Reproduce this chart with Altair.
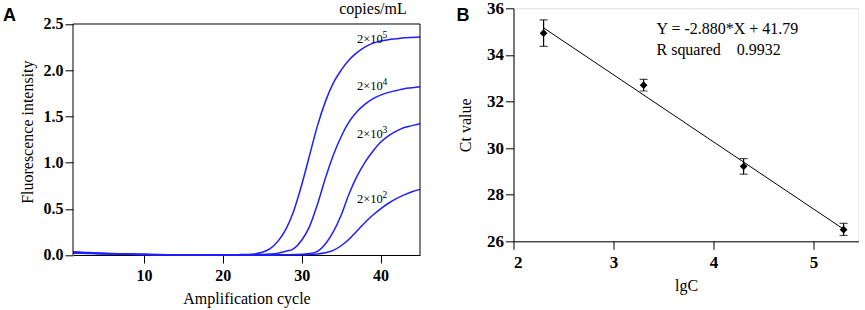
import altair as alt
import pandas as pd

# ---------------- Panel A data ----------------
cycles = list(range(1, 46))
curve_2e5 = [0.035, 0.030, 0.026, 0.022, 0.019, 0.016, 0.013, 0.011, 0.009, 0.007,
             0.006, 0.005, 0.004, 0.003, 0.003, 0.002, 0.002, 0.002, 0.002, 0.002,
             0.003, 0.004, 0.006, 0.012, 0.030, 0.070, 0.15, 0.28, 0.48, 0.76,
             1.08, 1.40, 1.66, 1.86, 2.00, 2.11, 2.19, 2.25, 2.29, 2.315,
             2.33, 2.34, 2.35, 2.355, 2.36]
curve_2e4 = [0.030, 0.026, 0.022, 0.019, 0.016, 0.013, 0.011, 0.009, 0.007, 0.006,
             0.005, 0.004, 0.003, 0.003, 0.002, 0.002, 0.002, 0.001, 0.001, 0.001,
             0.001, 0.001, 0.002, 0.003, 0.005, 0.010, 0.020, 0.040, 0.07, 0.16,
             0.31, 0.55, 0.83, 1.08, 1.28, 1.44, 1.55, 1.63, 1.69, 1.73,
             1.76, 1.78, 1.80, 1.81, 1.82]
curve_2e3 = [0.025, 0.022, 0.019, 0.016, 0.014, 0.012, 0.010, 0.008, 0.006, 0.005,
             0.004, 0.003, 0.003, 0.002, 0.002, 0.001, 0.001, 0.001, 0.001, 0.001,
             0.001, 0.001, 0.001, 0.001, 0.001, 0.001, 0.002, 0.003, 0.005, 0.008,
             0.015, 0.040, 0.12, 0.25, 0.43, 0.66, 0.85, 1.00, 1.12, 1.22,
             1.29, 1.34, 1.38, 1.40, 1.42]
curve_2e2 = [0.020, 0.018, 0.016, 0.014, 0.012, 0.010, 0.008, 0.007, 0.006, 0.005,
             0.004, 0.003, 0.002, 0.002, 0.001, 0.001, 0.001, 0.001, 0.001, 0.001,
             0.001, 0.001, 0.001, 0.001, 0.001, 0.001, 0.001, 0.002, 0.002, 0.003,
             0.006, 0.012, 0.025, 0.05, 0.10, 0.17, 0.26, 0.35, 0.43, 0.50,
             0.56, 0.61, 0.65, 0.685, 0.71]
series_names = ["2e5", "2e4", "2e3", "2e2"]
series_vals = [curve_2e5, curve_2e4, curve_2e3, curve_2e2]

label_base = ["2×10", "2×10", "2×10", "2×10"]
label_exp = ["5", "4", "3", "2"]
label_x = [37.0, 37.0, 37.0, 37.0]
label_y = [2.34, 1.83, 1.31, 0.61]

a_ticks_x = [10, 20, 30, 40]
a_ticks_y = [0, 0.5, 1.0, 1.5, 2.0, 2.5]

# ---------------- Panel B data ----------------
lgc = [2.301, 3.301, 4.301, 5.301]
ct = [34.93, 32.70, 29.22, 26.50]
ct_lo = [34.37, 32.45, 28.88, 26.25]
ct_hi = [35.50, 32.95, 29.55, 26.77]
fit_x = [2.301, 5.301]
fit_y = [35.16, 26.52]
eq_lines = ["Y = -2.880*X + 41.79", "R squared\u00a0\u00a0\u00a0 0.9932"]
eq_x = [3.43, 3.43]
eq_y = [35.11, 34.21]

SERIF = "Liberation Serif"
SANS = "Liberation Sans"
BLUE = "#1f1fff"

rows = []
for name, vals in zip(series_names, series_vals):
    for c, v in zip(cycles, vals):
        rows.append({"cycle": c, "value": v, "series": name})
df_a = pd.DataFrame(rows)
df_lab = pd.DataFrame({"cycle": label_x, "value": label_y, "t": label_base, "e": label_exp})
one = pd.DataFrame({"d": [0]})

# A: view spans from the top of panel B's frame; frame of A drawn with rules at 2.5
A_H = 246.7
A_TOP = 2.5 * A_H / 231.0
df_frame = pd.DataFrame({
    "x1": [1, 45, 1], "x2": [1, 45, 45],
    "y1": [0, 0, 2.5], "y2": [2.5, 2.5, 2.5],
})

xA = alt.X("cycle:Q", scale=alt.Scale(domain=[1, 45], nice=False, zero=False),
           axis=alt.Axis(values=a_ticks_x, title="Amplification cycle", grid=False,
                         labelFont=SERIF, labelFontWeight="bold", labelFontSize=16,
                         titleFont=SERIF, titleFontWeight="normal", titleFontSize=16,
                         tickSize=8, labelPadding=5, titlePadding=7,
                         domainColor="black", tickColor="black", labelColor="black", titleColor="black"))
yA = alt.Y("value:Q", scale=alt.Scale(domain=[0, A_TOP], nice=False),
           axis=alt.Axis(values=a_ticks_y, format=".1f", title="Fluorescence intensity",
                         grid=False, domain=False, labelFont=SERIF, labelFontWeight="bold", labelFontSize=16,
                         titleFont=SERIF, titleFontWeight="normal", titleFontSize=16,
                         tickSize=8, labelPadding=2, titlePadding=8,
                         tickColor="black", labelColor="black", titleColor="black"))

lines_a = alt.Chart(df_a).mark_line(color=BLUE, strokeWidth=1.5, interpolate="monotone").encode(
    x=xA, y=yA, detail="series:N")
frame_a = alt.Chart(df_frame).mark_rule(color="black", strokeWidth=1).encode(
    x="x1:Q", x2="x2:Q", y="y1:Q", y2="y2:Q")
labels_a = alt.Chart(df_lab).mark_text(font=SERIF, fontSize=12.5, color="black", align="left",
                                       baseline="middle").encode(
    x="cycle:Q", y="value:Q", text="t:N")
labels_e = alt.Chart(df_lab).mark_text(font=SERIF, fontSize=9.5, color="black", align="left",
                                       baseline="middle", dx=25.5, dy=-3.5).encode(
    x="cycle:Q", y="value:Q", text="e:N")
copies = alt.Chart(one).mark_text(font=SERIF, fontSize=16, color="black", align="center",
                                  baseline="alphabetic").encode(
    x=alt.value(300), y=alt.value(6), text=alt.value("copies/mL"))
letter_a = alt.Chart(one).mark_text(font=SANS, fontSize=18, fontWeight="bold", color="black",
                                    align="left", baseline="alphabetic").encode(
    x=alt.value(-70), y=alt.value(12.7), text=alt.value("A"))

panel_a = alt.layer(lines_a, frame_a, labels_a, labels_e, copies, letter_a).properties(
    width=347, height=A_H, view=alt.ViewBackground(stroke="transparent"))

df_pts = pd.DataFrame({"x": lgc, "y": ct, "lo": ct_lo, "hi": ct_hi})
df_fit = pd.DataFrame({"x": fit_x, "y": fit_y})
df_eq = pd.DataFrame({"x": eq_x, "y": eq_y, "t": eq_lines})

xB = alt.X("x:Q", scale=alt.Scale(domain=[2, 5.45], nice=False, zero=False),
           axis=alt.Axis(values=[2, 3, 4, 5], title="lgC", grid=False, format="d",
                         labelFont=SERIF, labelFontWeight="bold", labelFontSize=17,
                         titleFont=SERIF, titleFontWeight="normal", titleFontSize=16,
                         tickSize=8, labelPadding=5, titlePadding=7,
                         domainColor="black", tickColor="black", labelColor="black", titleColor="black"))
yB = alt.Y("y:Q", scale=alt.Scale(domain=[26, 36], nice=False, zero=False),
           axis=alt.Axis(values=[26, 28, 30, 32, 34, 36], title="Ct value", grid=False,
                         labelFont=SERIF, labelFontWeight="bold", labelFontSize=17,
                         titleFont=SERIF, titleFontWeight="normal", titleFontSize=16,
                         tickSize=8, labelPadding=2, titlePadding=13,
                         domainColor="black", tickColor="black", labelColor="black", titleColor="black"))

fit = alt.Chart(df_fit).mark_line(color="black", strokeWidth=1).encode(x=xB, y=yB)
err = alt.Chart(df_pts).mark_rule(color="black", strokeWidth=1.2).encode(x="x:Q", y="lo:Q", y2="hi:Q")
cap_lo = alt.Chart(df_pts).mark_tick(color="black", orient="horizontal", size=8, thickness=1.2).encode(
    x="x:Q", y="lo:Q")
cap_hi = alt.Chart(df_pts).mark_tick(color="black", orient="horizontal", size=8, thickness=1.2).encode(
    x="x:Q", y="hi:Q")
pts = alt.Chart(df_pts).mark_point(shape="diamond", filled=True, color="black", size=60, opacity=1).encode(
    x="x:Q", y="y:Q")
eq = alt.Chart(df_eq).mark_text(font=SERIF, fontSize=16, color="black", align="left").encode(
    x="x:Q", y="y:Q", text="t:N")
letter_b = alt.Chart(one).mark_text(font=SANS, fontSize=18, fontWeight="bold", color="black",
                                    align="left", baseline="alphabetic").encode(
    x=alt.value(-57), y=alt.value(12.5), text=alt.value("B"))
anchor_b = alt.Chart(one).mark_rule(strokeOpacity=0).encode(
    x=alt.value(0), x2=alt.value(5), y=alt.value(-10))

panel_b = alt.layer(fit, err, cap_lo, cap_hi, pts, eq, letter_b, anchor_b).properties(width=345, height=233)

chart = alt.hconcat(panel_a, panel_b, spacing=31.5).properties(
    padding={"left": 2, "top": -2.7, "right": 0, "bottom": 0}
).configure_view(stroke="black", strokeWidth=1).configure(background="white")

chart.save("out.html", embed_options={"renderer": "svg", "actions": False})
